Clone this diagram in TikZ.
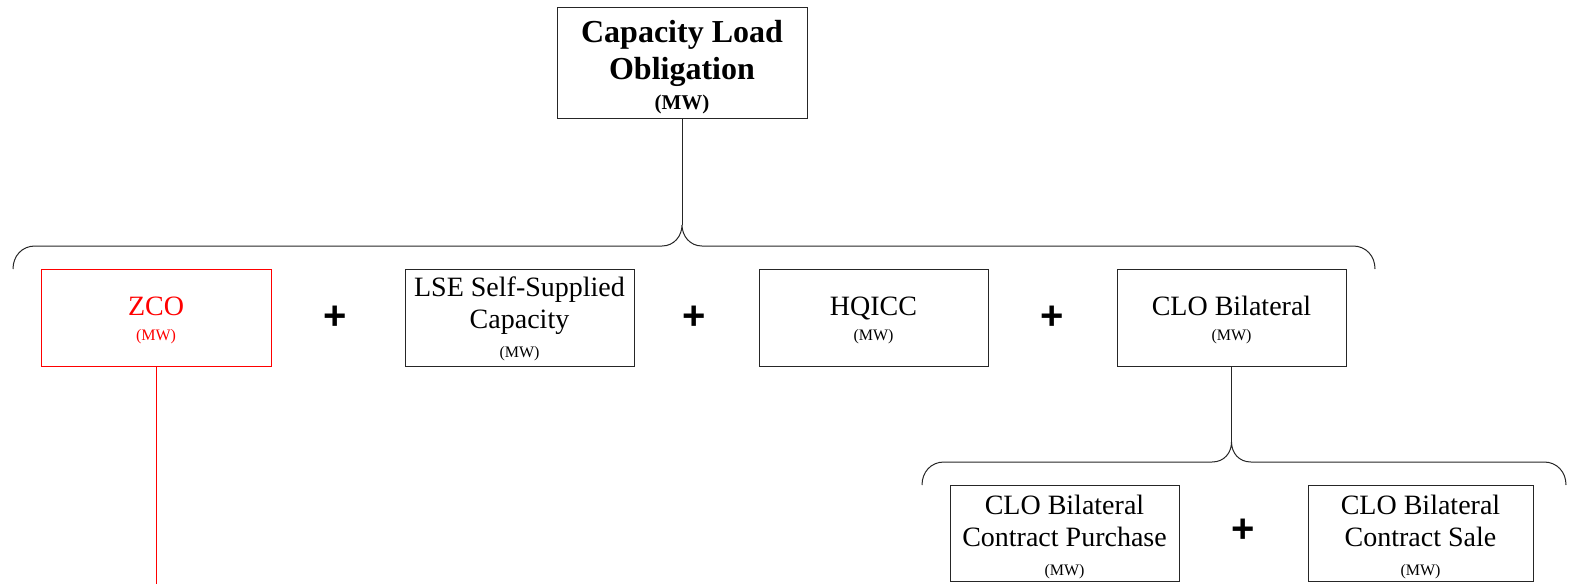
\documentclass[tikz,border=0pt]{standalone}
\usepackage{fontspec}
\setmainfont{Liberation Serif}
\newfontfamily\plusfont{Liberation Sans}
\tikzset{
  box/.style={draw=black!85, line width=1pt, inner sep=0pt, align=center,
    font=\fontsize{28}{32}\selectfont},
  red box/.style={box, draw=red, text=red},
  plussign/.style={font=\plusfont\bfseries\fontsize{40}{40}\selectfont, inner sep=0pt},
  conn/.style={line width=1pt, draw=black!85}
}
\newcommand{\mwsmall}{{\fontsize{16}{18}\selectfont (MW)}}
\newcommand{\upstrut}[1]{\rule{0pt}{#1}}
\begin{document}
\begin{tikzpicture}[x=1pt,y=-1pt]
\useasboundingbox (0,0) rectangle (1573,584);
% top
\node[box, minimum width=250pt, minimum height=111pt,
  font=\bfseries\fontsize{32}{37}\selectfont] (clo) at (682,62.5)
  {\upstrut{31pt}Capacity Load\\Obligation\\[-7pt]{\fontsize{21}{24}\selectfont (MW)}};
% row 1
\node[red box, minimum width=230pt, minimum height=97pt] (zco) at (156,317.5)
  {\upstrut{25pt}ZCO\\[-7pt]\mwsmall};
\node[box, minimum width=229pt, minimum height=97pt] (lse) at (519.5,317.5)
  {\upstrut{23pt}LSE Self-Supplied\\Capacity\\[-3pt]\mwsmall};
\node[box, minimum width=229pt, minimum height=97pt] (hq) at (873.5,317.5)
  {\upstrut{25pt}HQICC\\[-7pt]\mwsmall};
\node[box, minimum width=229pt, minimum height=97pt] (bil) at (1231.5,317.5)
  {\upstrut{25pt}CLO Bilateral\\[-7pt]\mwsmall};
\node[plussign] (p1) at (335,318) {+};
\node[plussign] (p2) at (694,318) {+};
\node[plussign] (p3) at (1052,318) {+};
% row 2
\node[box, minimum width=229pt, minimum height=96pt] (pur) at (1064.5,533)
  {\upstrut{27pt}CLO Bilateral\\Contract Purchase\\[-3pt]\mwsmall};
\node[box, minimum width=225pt, minimum height=96pt] (sale) at (1420.5,533)
  {\upstrut{27pt}CLO Bilateral\\Contract Sale\\[-3pt]\mwsmall};
\node[plussign] (p4) at (1243,531) {+};
% braces
\coordinate (tip1) at (682,225);
\coordinate (tip2) at (1231.5,442);
\coordinate (zend) at (156,584);
\draw[conn] (13,269) .. controls (13,256) and (22,246) .. (35,246)
  -- (662,246) .. controls (674,246) and (682,236) .. (tip1)
  .. controls (682,236) and (690,246) .. (702,246)
  -- (1353,246) .. controls (1366,246) and (1375,256) .. (1375,269);
\draw[conn] (922,485) .. controls (922,472) and (931,462) .. (944,462)
  -- (1212,462) .. controls (1224,462) and (1231.5,453) .. (tip2)
  .. controls (1231.5,453) and (1239,462) .. (1251,462)
  -- (1544,462) .. controls (1557,462) and (1566,472) .. (1566,485);
\draw[conn] (clo.south) -- (tip1);
\draw[conn] (bil.south) -- (tip2);
\draw[line width=1pt, red] (zco.south) -- (zend);
\end{tikzpicture}
\end{document}
